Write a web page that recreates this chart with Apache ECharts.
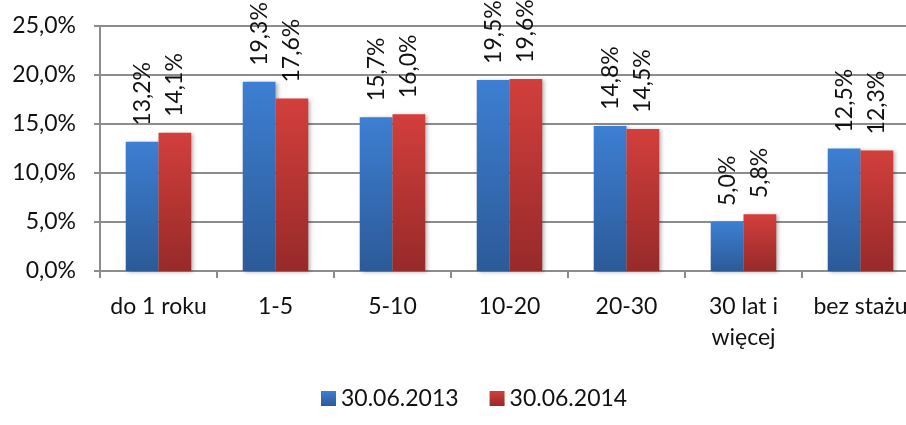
<!DOCTYPE html>
<html>
<head>
<meta charset="utf-8">
<script src="https://cdn.jsdelivr.net/npm/echarts@6/dist/echarts.min.js"></script>
<style>
html,body{margin:0;padding:0;background:#fff;}
#c{width:906px;height:425px;}
</style>
</head>
<body>
<div id="c"></div>
<script>
const categories = ["do 1 roku", "1-5", "5-10", "10-20", "20-30", "30 lat i\nwięcej", "bez stażu"];
const seriesNames = ["30.06.2013", "30.06.2014"];
const values2013 = [13.2, 19.3, 15.7, 19.5, 14.8, 5.0, 12.5];
const values2014 = [14.1, 17.6, 16.0, 19.6, 14.5, 5.8, 12.3];
const yTicks = [0, 5, 10, 15, 20, 25];

const FONT = 'Lato';
const FS = 23;
function pct(v){ return v.toFixed(1).replace('.', ',') + '%'; }
function grad(top, bottom){
  return new echarts.graphic.LinearGradient(0,0,0,1,[{offset:0,color:top},{offset:1,color:bottom}]);
}
const label = {
  show: true, position: 'top', rotate: 90, distance: 16,
  align: 'left', verticalAlign: 'middle',
  fontFamily: FONT, fontSize: FS, color: '#111',
  formatter: p => pct(p.value)
};
const shadow = {shadowColor:'rgba(0,0,0,0.3)', shadowBlur:4, shadowOffsetX:2, shadowOffsetY:1};

const chart = echarts.init(document.getElementById('c'), null, {renderer:'canvas'});
chart.setOption({
  animation: false,
  backgroundColor: '#fff',
  grid: {left: 100, width: 819, top: 26, height: 245, containLabel: false, outerBoundsMode: 'none'},
  legend: {
    data: seriesNames, top: 382, left: 316, icon: 'rect',
    itemWidth: 15, itemHeight: 15, itemGap: 31,
    textStyle: {fontFamily: FONT, fontSize: FS, color: '#111'}
  },
  xAxis: {
    type: 'category', data: categories,
    axisLine: {lineStyle: {color: '#8c8c8c', width: 2}},
    axisTick: {show: true, length: 7, lineStyle: {color: '#8c8c8c', width: 2}},
    axisLabel: {fontFamily: FONT, fontSize: FS, color: '#111', margin: 20, lineHeight: 31, interval: 0, hideOverlap: false}
  },
  yAxis: {
    type: 'value', min: yTicks[0], max: yTicks[yTicks.length-1], interval: 5,
    axisLine: {show: true, lineStyle: {color: '#8c8c8c', width: 2}},
    axisTick: {show: true, length: 6, lineStyle: {color: '#8c8c8c', width: 2}},
    splitLine: {lineStyle: {color: '#8c8c8c', width: 2}},
    axisLabel: {fontFamily: FONT, fontSize: FS, color: '#111', margin: 24, formatter: v => pct(v)}
  },
  series: [
    {name: seriesNames[0], type: 'bar', data: values2013, barGap: '0%', barCategoryGap: '44%',
     itemStyle: Object.assign({color: grad('#3d7fd2', '#2c5a98')}, shadow), label: label},
    {name: seriesNames[1], type: 'bar', data: values2014, barGap: '0%', barCategoryGap: '44%',
     itemStyle: Object.assign({color: grad('#d23f3c', '#972a29')}, shadow), label: label}
  ]
});
</script>
</body>
</html>
